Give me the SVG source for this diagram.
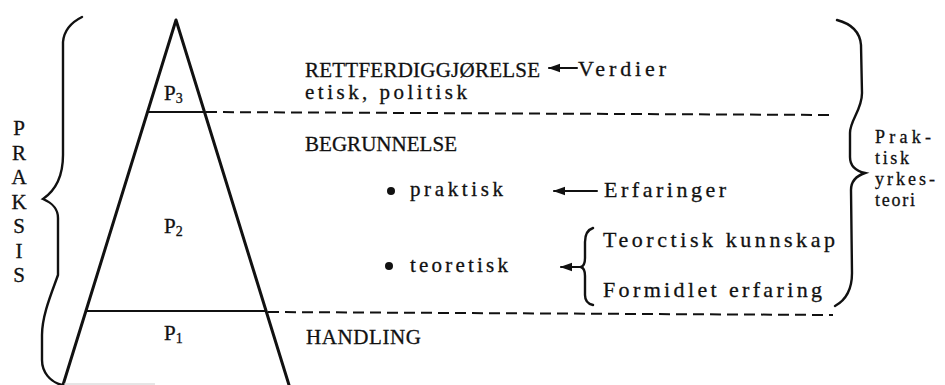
<svg xmlns="http://www.w3.org/2000/svg" width="945" height="385" viewBox="0 0 945 385">
<style>
.t{font-family:"Liberation Serif","Times New Roman",serif;font-size:21px;fill:#111;stroke:#111;stroke-width:0.3}
.b{font-size:22px}
.r{font-size:18px}
.s{font-size:14px}
.ln{stroke:#111;fill:none;stroke-linecap:round;stroke-linejoin:round}
.dash{stroke:#111;stroke-width:2;stroke-dasharray:11 6;fill:none}
.br{stroke:#111;stroke-width:2.4;fill:none;stroke-linecap:round}
</style>
<defs>
<marker id="ah" markerWidth="12" markerHeight="10" refX="1" refY="5" orient="auto" markerUnits="userSpaceOnUse">
<path d="M0,5 L12,0.8 L12,9.2 Z" fill="#111"/>
</marker>
</defs>
<rect width="945" height="385" fill="#fff"/>

<g id="triangle">
<path class="ln" stroke-width="3" d="M63,385 L176,20 L289,385"/>
<line class="ln" stroke-width="2" x1="148" y1="112" x2="204" y2="112"/>
<line class="ln" stroke-width="2" x1="86" y1="311" x2="266" y2="311"/>
<line x1="64" y1="384" x2="155" y2="384" stroke="#ccc" stroke-width="1"/>
</g>

<g id="p3"><text class="t" x="164" y="100">P<tspan class="s" dy="3">3</tspan></text></g>
<g id="p2"><text class="t" x="164" y="233">P<tspan class="s" dy="3">2</tspan></text></g>
<g id="p1"><text class="t" x="164" y="340">P<tspan class="s" dy="3">1</tspan></text></g>

<g id="praksis">
<path class="br" d="M82,17 C72,22 64,30 63,42 L63,155 C63,175 56,190 43,199 C52,203 58,208 58,218 L58,275 C52,292 42,315 42,335 L42,360 C42,372 50,382 62,385"/>
<text class="t" text-anchor="middle" x="19" y="135">P</text>
<text class="t" text-anchor="middle" x="19" y="160">R</text>
<text class="t" text-anchor="middle" x="19" y="184">A</text>
<text class="t" text-anchor="middle" x="19" y="209">K</text>
<text class="t" text-anchor="middle" x="19" y="233">S</text>
<text class="t" text-anchor="middle" x="19" y="258">I</text>
<text class="t" text-anchor="middle" x="19" y="282">S</text>
</g>

<g id="rettferdiggjorelse">
<text class="t" x="305" y="77" textLength="235" lengthAdjust="spacing">RETTFERDIGGJØRELSE</text>
<text class="t" x="305" y="99" textLength="162" lengthAdjust="spacing">etisk, politisk</text>
</g>
<g id="verdier"><text class="t b" x="578" y="76" textLength="88" lengthAdjust="spacing">Verdier</text></g>

<g id="begrunnelse"><text class="t" x="305" y="151" textLength="152" lengthAdjust="spacing">BEGRUNNELSE</text></g>

<g id="praktisk">
<circle cx="391" cy="191" r="4" fill="#111"/>
<text class="t" x="410" y="196" textLength="93" lengthAdjust="spacing">praktisk</text>
</g>
<g id="erfaringer"><text class="t b" x="604" y="197" textLength="122" lengthAdjust="spacing">Erfaringer</text></g>

<g id="teoretisk">
<circle cx="389" cy="266" r="4" fill="#111"/>
<text class="t" x="410" y="272" textLength="98" lengthAdjust="spacing">teoretisk</text>
</g>
<g id="teoretisk-kunnskap"><text class="t b" x="603" y="247" textLength="232" lengthAdjust="spacing">Teorctisk kunnskap</text></g>
<g id="formidlet-erfaring"><text class="t b" x="603" y="297" textLength="219" lengthAdjust="spacing">Formidlet erfaring</text></g>

<g id="handling"><text class="t" x="306" y="344" textLength="115" lengthAdjust="spacing">HANDLING</text></g>

<g id="praktisk-yrkesteori">
<path class="br" d="M837,20 C852,24 860,32 861,45 L862,93 C862,110 850,120 850,133 L850,157 C850,166 856,171 865,173 C856,176 851,181 851,190 L852,273 C852,290 846,300 835,306"/>
<text class="t r" x="875" y="143" textLength="56" lengthAdjust="spacing">Prak-</text>
<text class="t r" x="875" y="164" textLength="34" lengthAdjust="spacing">tisk</text>
<text class="t r" x="875" y="185" textLength="60" lengthAdjust="spacing">yrkes-</text>
<text class="t r" x="875" y="206" textLength="40" lengthAdjust="spacing">teori</text>
</g>

<g id="connectors">
<line class="dash" x1="206" y1="112" x2="833" y2="115"/>
<line class="dash" x1="268" y1="312" x2="833" y2="315"/>
<line class="ln" stroke-width="2" x1="549" y1="68" x2="577" y2="68" marker-start="url(#ah)"/>
<line class="ln" stroke-width="2" x1="554" y1="191" x2="597" y2="191" marker-start="url(#ah)"/>
<path class="br" d="M593,228 C587,230 585,235 585,242 L585,258 C585,263 584,266 581,267 C584,268 585,271 585,276 L585,295 C585,301 588,304 593,305"/>
<line class="ln" stroke-width="2" x1="561" y1="267" x2="581" y2="267" marker-start="url(#ah)"/>
</g>
</svg>
